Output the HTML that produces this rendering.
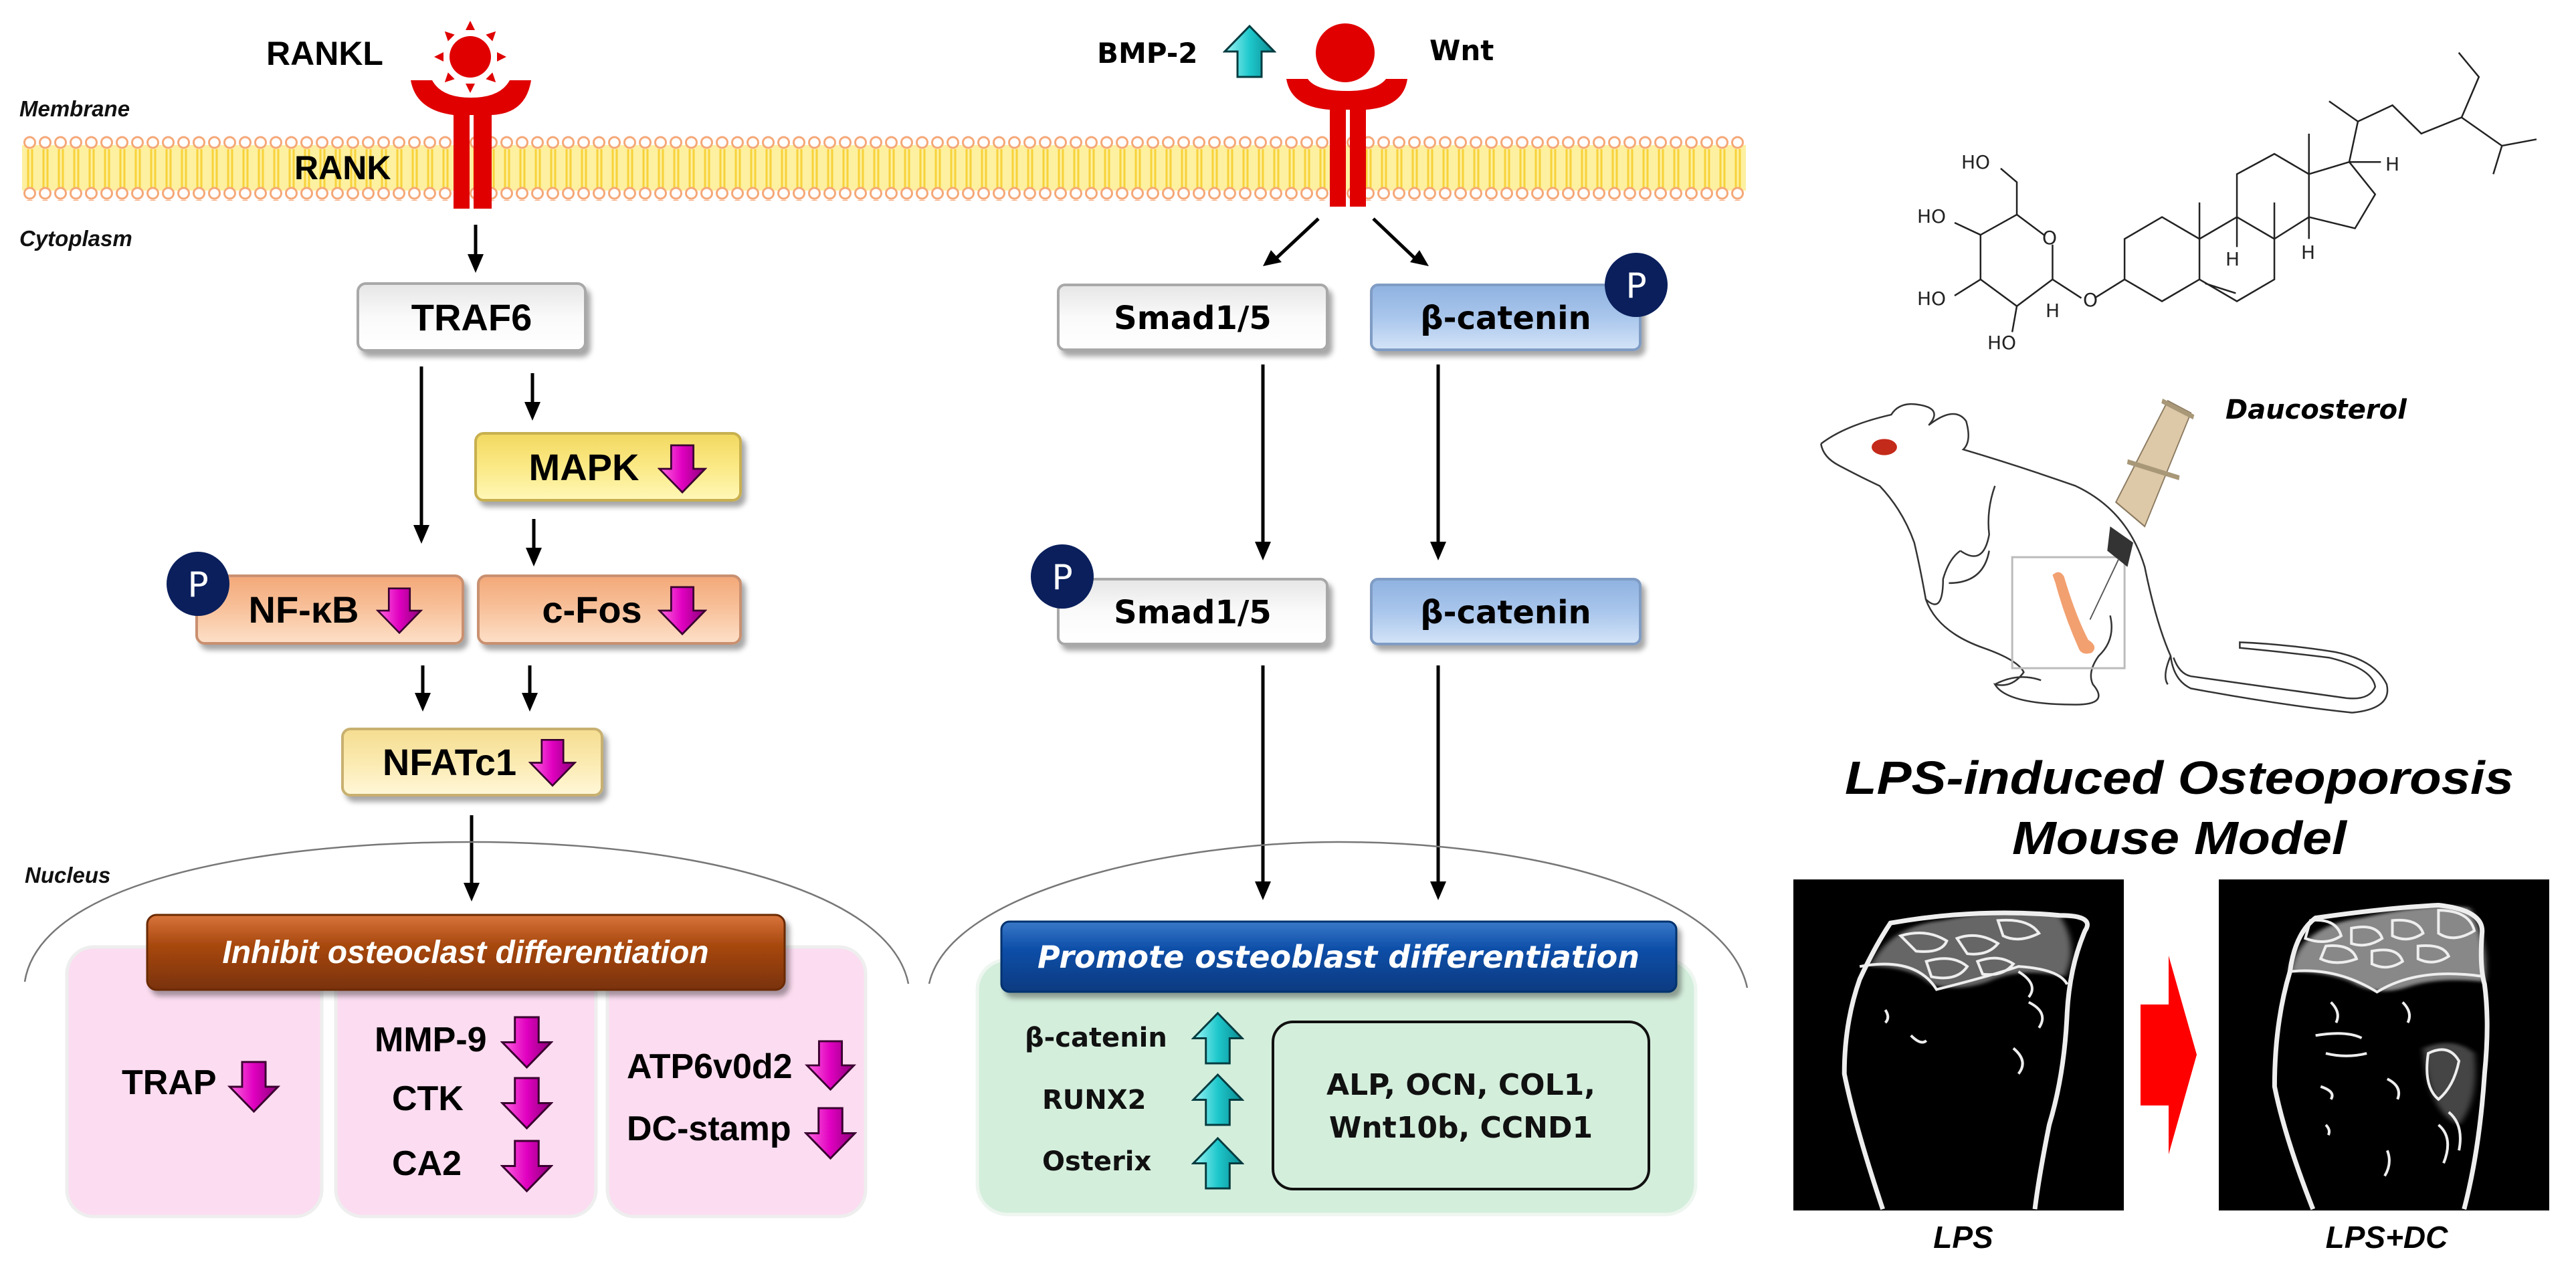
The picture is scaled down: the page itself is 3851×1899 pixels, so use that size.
<!DOCTYPE html>
<html><head><meta charset="utf-8"><style>
html,body{margin:0;padding:0;background:#fff;}
svg{display:block}
.L{font-family:"Liberation Sans",sans-serif;font-weight:bold;}
.D{font-family:"DejaVu Sans","Liberation Sans",sans-serif;font-weight:bold;}
</style></head><body>
<svg width="3851" height="1899" viewBox="0 0 3851 1899" xmlns="http://www.w3.org/2000/svg">
<defs>
<linearGradient id="mg" x1="0" x2="1"><stop offset="0" stop-color="#ff66e0"/><stop offset="0.5" stop-color="#e000c0"/><stop offset="1" stop-color="#8a0078"/></linearGradient>
<linearGradient id="cy" x1="0" x2="1"><stop offset="0" stop-color="#9ff5f5"/><stop offset="0.5" stop-color="#1ec8cc"/><stop offset="1" stop-color="#0a8a90"/></linearGradient>
<symbol id="dn" viewBox="0 0 80 80"><polygon points="22,2 58,2 58,40 77,40 40,78 3,40 22,40" fill="url(#mg)" stroke="#3a0030" stroke-width="3"/></symbol>
<symbol id="up" viewBox="0 0 80 80"><polygon points="22,78 58,78 58,40 77,40 40,2 3,40 22,40" fill="url(#cy)" stroke="#063c40" stroke-width="3"/></symbol>
<linearGradient id="gW" x1="0" y1="0" x2="0" y2="1"><stop offset="0" stop-color="#e6e6e6"/><stop offset="0.5" stop-color="#fafafa"/><stop offset="1" stop-color="#ffffff"/></linearGradient>
<linearGradient id="gY" x1="0" y1="0" x2="0" y2="1"><stop offset="0" stop-color="#f2d860"/><stop offset="0.5" stop-color="#fbe985"/><stop offset="1" stop-color="#fff8b8"/></linearGradient>
<linearGradient id="gP" x1="0" y1="0" x2="0" y2="1"><stop offset="0" stop-color="#f3a878"/><stop offset="0.5" stop-color="#f8c29c"/><stop offset="1" stop-color="#fde0c8"/></linearGradient>
<linearGradient id="gN" x1="0" y1="0" x2="0" y2="1"><stop offset="0" stop-color="#f5dd90"/><stop offset="0.5" stop-color="#fbeab0"/><stop offset="1" stop-color="#fff7d8"/></linearGradient>
<linearGradient id="gB" x1="0" y1="0" x2="0" y2="1"><stop offset="0" stop-color="#8fb2e0"/><stop offset="0.5" stop-color="#a9c6ec"/><stop offset="1" stop-color="#d4e4f8"/></linearGradient>
<linearGradient id="gBr" x1="0" y1="0" x2="0" y2="1"><stop offset="0" stop-color="#d8743c"/><stop offset="0.4" stop-color="#a8480f"/><stop offset="1" stop-color="#7a3208"/></linearGradient>
<linearGradient id="gBl" x1="0" y1="0" x2="0" y2="1"><stop offset="0" stop-color="#3a78c8"/><stop offset="0.4" stop-color="#0c4ea8"/><stop offset="1" stop-color="#073a80"/></linearGradient>
<filter id="sh" x="-10%" y="-10%" width="125%" height="140%"><feDropShadow dx="6" dy="8" stdDeviation="4" flood-color="#000" flood-opacity="0.35"/></filter>
<filter id="bl"><feGaussianBlur stdDeviation="6"/></filter>
<pattern id="mem" x="33" y="203" width="23" height="95" patternUnits="userSpaceOnUse">
<rect x="0" y="14" width="23" height="68" fill="#fdf0a0"/>
<line x1="9" y1="20" x2="9" y2="78" stroke="#f7d23a" stroke-width="3"/>
<line x1="15" y1="20" x2="15" y2="78" stroke="#f7d23a" stroke-width="3"/>
<ellipse cx="11.5" cy="10" rx="8" ry="8" fill="#fff" stroke="#f5a878" stroke-width="3"/>
<ellipse cx="11.5" cy="86" rx="8" ry="8" fill="#fff" stroke="#f5a878" stroke-width="3"/>
</pattern>
</defs>

<rect x="33" y="203" width="2577" height="97" fill="url(#mem)"/>
<g class="L" font-style="italic" font-size="33" fill="#111">
<text x="29" y="174">Membrane</text>
<text x="29" y="368">Cytoplasm</text>
<text x="37" y="1320">Nucleus</text>
</g>

<text class="L" x="398" y="97" font-size="50" fill="#000">RANKL</text>
<text class="L" x="440" y="268" font-size="50" fill="#000">RANK</text>
<g fill="#e00000">
<circle cx="703" cy="85" r="31"/>
<g transform="translate(703,85)">
<polygon points="-7,-40 7,-40 0,-54"/><polygon points="-7,40 7,40 0,54"/>
<polygon points="-40,-7 -40,7 -54,0"/><polygon points="40,-7 40,7 54,0"/>
<g transform="rotate(45)"><polygon points="-7,-40 7,-40 0,-54"/><polygon points="-7,40 7,40 0,54"/><polygon points="-40,-7 -40,7 -54,0"/><polygon points="40,-7 40,7 54,0"/></g>
</g>
<path d="M614,120 L646,120 Q660,146 704,146 Q748,146 762,120 L794,120 Q786,170 735,172 L735,312 L708,312 L708,172 L702,172 L702,312 L678,312 L678,172 Q622,165 614,120 Z"/>
</g>

<text class="D" x="1640" y="94" font-size="42" fill="#000">BMP-2</text>
<use href="#up" x="1828" y="34" width="80" height="86"/>
<text class="D" x="2137" y="90" font-size="42" fill="#000">Wnt</text>
<g fill="#e00000">
<circle cx="2011" cy="79" r="44"/>
<path d="M1923,118 L1955,118 Q1968,136 2013,136 Q2058,136 2072,118 L2104,118 Q2098,160 2042,164 L2042,309 L2018,309 L2018,164 L2012,164 L2012,309 L1988,309 L1988,164 Q1930,160 1923,118 Z"/>
</g>

<g stroke="#000" stroke-width="5" fill="none">
<line x1="711" y1="336" x2="711" y2="385"/>
<line x1="630" y1="548" x2="630" y2="790"/>
<line x1="796" y1="558" x2="796" y2="606"/>
<line x1="798" y1="776" x2="798" y2="824"/>
<line x1="632" y1="995" x2="632" y2="1041"/>
<line x1="792" y1="995" x2="792" y2="1041"/>
<line x1="705" y1="1219" x2="705" y2="1325"/>
<line x1="1971" y1="327" x2="1908" y2="386"/>
<line x1="2053" y1="327" x2="2115" y2="386"/>
<line x1="1888" y1="545" x2="1888" y2="815"/>
<line x1="2150" y1="545" x2="2150" y2="815"/>
<line x1="1888" y1="995" x2="1888" y2="1323"/>
<line x1="2150" y1="995" x2="2150" y2="1323"/>
</g>
<g fill="#000">
<polygon points="699,380 723,380 711,408"/>
<polygon points="618,785 642,785 630,813"/>
<polygon points="784,601 808,601 796,629"/>
<polygon points="786,819 810,819 798,847"/>
<polygon points="620,1036 644,1036 632,1064"/>
<polygon points="780,1036 804,1036 792,1064"/>
<polygon points="693,1320 717,1320 705,1348"/>
<polygon points="1876,810 1900,810 1888,838"/>
<polygon points="2138,810 2162,810 2150,838"/>
<polygon points="1876,1318 1900,1318 1888,1346"/>
<polygon points="2138,1318 2162,1318 2150,1346"/>
<polygon points="1888,398 1900,374 1916,392"/>
<polygon points="2136,398 2108,392 2122,374"/>
</g>

<path d="M37,1468 C60,1320 380,1259 705,1259 C1030,1259 1330,1330 1358,1471" fill="none" stroke="#777" stroke-width="2.5"/>
<path d="M1389,1471 C1420,1330 1760,1259 2000,1259 C2280,1259 2580,1330 2612,1477" fill="none" stroke="#777" stroke-width="2.5"/>

<g fill="#fcdcf0" stroke="#eee" stroke-width="5">
<rect x="100" y="1416" width="381" height="403" rx="40"/>
<rect x="502" y="1416" width="389" height="403" rx="40"/>
<rect x="908" y="1416" width="386" height="403" rx="40"/>
</g>
<rect x="220" y="1368" width="953" height="112" rx="14" fill="url(#gBr)" stroke="#6a2a05" stroke-width="3" filter="url(#sh)"/>
<text class="L" x="696" y="1440" font-size="48" font-style="italic" fill="#fff" text-anchor="middle">Inhibit osteoclast  differentiation</text>

<g class="L" font-size="52" fill="#000">
<text x="182" y="1636">TRAP</text>
<text x="560" y="1572">MMP-9</text>
<text x="586" y="1660">CTK</text>
<text x="586" y="1757">CA2</text>
<text x="937" y="1612">ATP6v0d2</text>
<text x="937" y="1705">DC-stamp</text>
</g>
<use href="#dn" x="340" y="1586" width="79" height="78"/>
<use href="#dn" x="748" y="1519" width="79" height="79"/>
<use href="#dn" x="748" y="1610" width="79" height="79"/>
<use href="#dn" x="748" y="1704" width="79" height="79"/>
<use href="#dn" x="1202" y="1555" width="79" height="76"/>
<use href="#dn" x="1202" y="1655" width="79" height="79"/>

<rect x="1461" y="1435" width="1074" height="381" rx="45" fill="#d4eedc" stroke="#eef6f0" stroke-width="5"/>
<rect x="1497" y="1378" width="1009" height="105" rx="12" fill="url(#gBl)" stroke="#06326e" stroke-width="3" filter="url(#sh)"/>
<text class="D" x="2001" y="1447" font-size="46" font-style="italic" fill="#fff" text-anchor="middle">Promote osteoblast differentiation</text>
<g class="D" font-size="40" fill="#111">
<text x="1532" y="1565">β-catenin</text>
<text x="1558" y="1658">RUNX2</text>
<text x="1558" y="1750">Osterix</text>
</g>
<use href="#up" x="1781" y="1513" width="79" height="79"/>
<use href="#up" x="1781" y="1604" width="79" height="81"/>
<use href="#up" x="1781" y="1699" width="79" height="81"/>
<rect x="1903" y="1528" width="562" height="250" rx="30" fill="none" stroke="#111" stroke-width="4"/>
<g class="D" font-size="44" fill="#111" text-anchor="middle">
<text x="2184" y="1637">ALP, OCN, COL1,</text>
<text x="2184" y="1701">Wnt10b, CCND1</text>
</g>

<g filter="url(#sh)" stroke="#a8a8a8" stroke-width="4">
<rect x="535" y="424" width="340" height="100" rx="12" fill="url(#gW)"/>
<rect x="711" y="648" width="396" height="100" rx="12" fill="url(#gY)" stroke="#c8b050"/>
<rect x="294" y="861" width="398" height="101" rx="12" fill="url(#gP)" stroke="#c99070"/>
<rect x="715" y="861" width="392" height="101" rx="12" fill="url(#gP)" stroke="#c99070"/>
<rect x="512" y="1090" width="388" height="99" rx="12" fill="url(#gN)" stroke="#c8b070"/>
<rect x="1582" y="426" width="402" height="97" rx="10" fill="url(#gW)"/>
<rect x="2050" y="426" width="402" height="97" rx="10" fill="url(#gB)" stroke="#7f9cc4"/>
<rect x="1582" y="866" width="402" height="97" rx="10" fill="url(#gW)"/>
<rect x="2050" y="866" width="402" height="97" rx="10" fill="url(#gB)" stroke="#7f9cc4"/>
</g>
<g class="L" font-size="56" fill="#000" text-anchor="middle">
<text x="705" y="494">TRAF6</text>
<text x="873" y="718">MAPK</text>
<text x="454" y="931">NF-κB</text>
<text x="885" y="931">c-Fos</text>
<text x="672" y="1159">NFATc1</text>
</g>
<use href="#dn" x="983" y="660" width="74" height="82"/>
<use href="#dn" x="562" y="873" width="70" height="80"/>
<use href="#dn" x="983" y="873" width="74" height="80"/>
<use href="#dn" x="790" y="1098" width="72" height="85"/>
<g class="D" font-size="48" fill="#000" text-anchor="middle">
<text x="1783" y="492">Smad1/5</text>
<text x="2251" y="492">β-catenin</text>
<text x="1783" y="932">Smad1/5</text>
<text x="2251" y="932">β-catenin</text>
</g>
<g fill="#0a1f5c">
<ellipse cx="296" cy="873" rx="47" ry="48"/>
<ellipse cx="2446" cy="426" rx="47" ry="48"/>
<ellipse cx="1588" cy="862" rx="47" ry="48"/>
</g>
<g font-family="'DejaVu Sans',sans-serif" font-size="52" fill="#fff" text-anchor="middle">
<text x="296" y="892">P</text><text x="2446" y="445">P</text><text x="1588" y="881">P</text>
</g>

<g transform="translate(2500,0) scale(0.8613,1.211)" fill="none" stroke="#222" stroke-width="2.5">
<path vector-effect="non-scaling-stroke" d="M598,265 L645,290 M660,302 L660,345 L598,378 L535,345 L535,290 L598,265 M598,265 L598,225 L570,208 M660,345 L710,368 M733,368 L785,345 M535,290 L490,275 M535,345 L490,365 M598,378 L590,410"/>
<path vector-effect="non-scaling-stroke" d="M785,345 L785,295 L850,268 L915,295 L915,345 L850,372 L785,345 M915,295 L980,268 L1045,295 L1045,345 L980,372 L915,345 M925,350 L978,362 M980,268 L980,215 L1045,190 L1105,215 L1105,268 L1045,295 M1105,215 L1175,200 L1220,240 L1185,282 L1105,268 M915,295 L915,250 M1045,295 L1045,250 M1105,215 L1105,165 M980,268 L980,305 M1105,268 L1105,295 M1175,200 L1190,150 L1140,125 M1190,150 L1250,130 L1300,165 L1370,145 L1400,95 L1365,65 M1370,145 L1440,180 L1500,172 M1440,180 L1425,215 M1175,200 L1230,200"/>
</g>
<g font-family="'DejaVu Sans',sans-serif" font-size="28" fill="#222">
<text x="2932" y="252">HO</text>
<text x="2866" y="333">HO</text>
<text x="2866" y="456">HO</text>
<text x="2971" y="522">HO</text>
<text x="3053" y="365">O</text>
<text x="3058" y="474">H</text>
<text x="3114" y="458">O</text>
<text x="3327" y="397">H</text>
<text x="3440" y="387">H</text>
<text x="3566" y="255">H</text>
</g>
<text class="D" x="3327" y="626" font-size="40" font-style="italic" fill="#000">Daucosterol</text>

<g transform="translate(2500,0) scale(0.8613,1.211)" fill="none" stroke="#333" stroke-width="2.5">
<path vector-effect="non-scaling-stroke" d="M258,548 Q300,525 380,512 Q395,495 430,500 Q470,505 445,525 Q490,500 510,520 Q520,545 505,555 Q600,575 700,600 Q790,630 820,700 Q840,770 865,810 Q870,840 900,850 Q1050,870 1180,880 Q1250,875 1240,845 Q1220,815 1150,805 Q1060,795 985,793 L985,800 Q1060,805 1140,812 Q1215,825 1220,848 Q1210,865 1170,862 Q1050,850 900,835 Q880,832 870,812"/>
<path vector-effect="non-scaling-stroke" d="M258,548 Q262,565 290,575 Q330,590 360,600 Q400,630 420,670 Q430,700 440,740 Q470,760 470,715 Q480,690 500,680 M440,740 Q460,780 540,800 Q600,815 610,830 Q590,850 560,845 Q580,870 700,870 Q760,870 730,845 Q720,830 740,810 Q770,790 760,760 M560,845 Q600,830 640,840 M865,810 Q850,835 860,845 M500,680 Q540,700 550,660 Q545,630 560,600 M480,720 Q540,720 550,680"/>
<rect vector-effect="non-scaling-stroke" x="590" y="688" width="195" height="137" stroke="#bbb" stroke-width="3"/>
</g>
<g transform="translate(2500,0) scale(0.8613,1.211)">
<ellipse cx="368" cy="552" rx="22" ry="10" fill="#c42a1a"/>
<path d="M660,710 Q672,702 680,712 Q700,760 722,790 Q740,798 728,806 Q710,810 705,800 Q680,760 665,720 Z" fill="#f2a070"/>
<polygon points="770,620 820,650 900,510 860,495" fill="#ddc8a8" stroke="#8a7a60" stroke-width="2"/>
<polygon points="760,650 800,670 790,700 755,680" fill="#333"/>
<line x1="775" y1="690" x2="725" y2="765" stroke="#555" stroke-width="2"/>
<line x1="790" y1="570" x2="880" y2="590" stroke="#a89878" stroke-width="6"/>
<line x1="850" y1="495" x2="905" y2="515" stroke="#a89878" stroke-width="6"/>
</g>
<g class="L" font-style="italic" font-size="70" fill="#000" text-anchor="middle">
<text x="3258" y="1187" textLength="1000" lengthAdjust="spacingAndGlyphs">LPS-induced  Osteoporosis</text>
<text x="3258" y="1277" textLength="500" lengthAdjust="spacingAndGlyphs">Mouse Model</text>
</g>

<rect x="2681" y="1315" width="494" height="495" fill="#000"/>
<rect x="3317" y="1315" width="494" height="495" fill="#000"/>
<g transform="translate(2650,1300) scale(0.7657,0.382)">
<path d="M190,380 Q230,220 330,200 Q450,150 560,180 Q600,300 570,420 Q480,380 420,440 Q360,480 310,450 Q270,380 190,380 Z" fill="#666" filter="url(#bl)"/>
<path d="M1010,400 Q1030,220 1150,190 Q1280,130 1360,150 Q1400,300 1390,440 Q1300,420 1240,460 Q1180,500 1130,440 Q1080,400 1010,400 Z" fill="#888" filter="url(#bl)"/>
<path d="M1270,700 Q1330,650 1370,720 Q1380,900 1340,1000 Q1280,950 1270,700 Z" fill="#444" filter="url(#bl)"/>
</g>
<g transform="translate(2650,1300) scale(0.7657,0.382)" fill="none" stroke="#eee" stroke-width="4">
<path vector-effect="non-scaling-stroke" stroke-width="7" d="M215,1330 Q160,1000 140,800 Q140,600 170,430 Q200,300 230,210 Q400,150 560,180 Q630,180 610,240 Q580,380 575,560 Q570,800 540,1000 Q520,1200 512,1330"/>
<path vector-effect="non-scaling-stroke" d="M170,380 Q280,340 320,470 Q420,420 480,380 Q560,390 575,450 M250,260 Q300,230 340,280 Q330,330 280,320 Z M360,270 Q400,240 440,290 Q420,340 380,330 Z M440,200 Q500,190 520,250 Q480,290 450,260 Z M300,360 Q350,330 380,380 Q360,440 310,420 Z M400,360 Q440,330 470,370 Q450,420 410,410 Z M480,400 Q520,450 500,500 M270,650 Q290,690 300,670 M220,550 Q230,580 220,600 M470,700 Q500,750 480,800 M500,520 Q540,560 520,620"/>
</g>
<g transform="translate(2650,1300) scale(0.7657,0.382)" fill="none" stroke="#eee" stroke-width="4">
<path vector-effect="non-scaling-stroke" stroke-width="7" d="M1055,1330 Q1000,1050 980,850 Q980,600 1010,400 Q1020,250 1060,190 Q1200,150 1300,140 Q1390,160 1385,250 Q1380,380 1390,450 Q1400,600 1390,800 Q1380,1100 1350,1330"/>
<path vector-effect="non-scaling-stroke" d="M1010,400 Q1100,380 1180,480 Q1260,380 1390,420 M1050,200 Q1100,190 1110,260 Q1080,300 1040,270 Z M1130,230 Q1180,210 1190,270 Q1160,310 1130,290 Z M1210,200 Q1260,190 1270,250 Q1240,290 1210,260 Z M1300,160 Q1360,160 1370,240 Q1330,290 1300,250 Z M1080,300 Q1130,290 1140,350 Q1100,380 1070,350 Z M1170,320 Q1220,300 1230,360 Q1200,400 1170,370 Z M1260,300 Q1310,290 1320,340 Q1290,380 1260,350 Z M1280,720 Q1320,680 1340,750 Q1330,850 1300,900 Q1270,850 1280,720 Z M1060,650 Q1120,630 1150,660 M1080,720 Q1120,740 1160,720 M1200,820 Q1230,850 1220,900 M1320,950 Q1350,1000 1340,1100 M1090,520 Q1110,560 1100,600 M1230,520 Q1250,560 1240,600 M1070,850 Q1100,870 1090,900 M1300,1000 Q1330,1050 1310,1150 M1080,1000 Q1090,1020 1085,1040 M1200,1100 Q1210,1150 1195,1200"/>
</g>
<polygon points="3200,1502 3242,1502 3242,1429 3284,1577 3242,1726 3242,1653 3200,1653" fill="#ff0000"/>
<g class="L" font-style="italic" font-size="46" fill="#000" text-anchor="middle">
<text x="2935" y="1866">LPS</text>
<text x="3568" y="1866">LPS+DC</text>
</g>
</svg>
</body></html>
